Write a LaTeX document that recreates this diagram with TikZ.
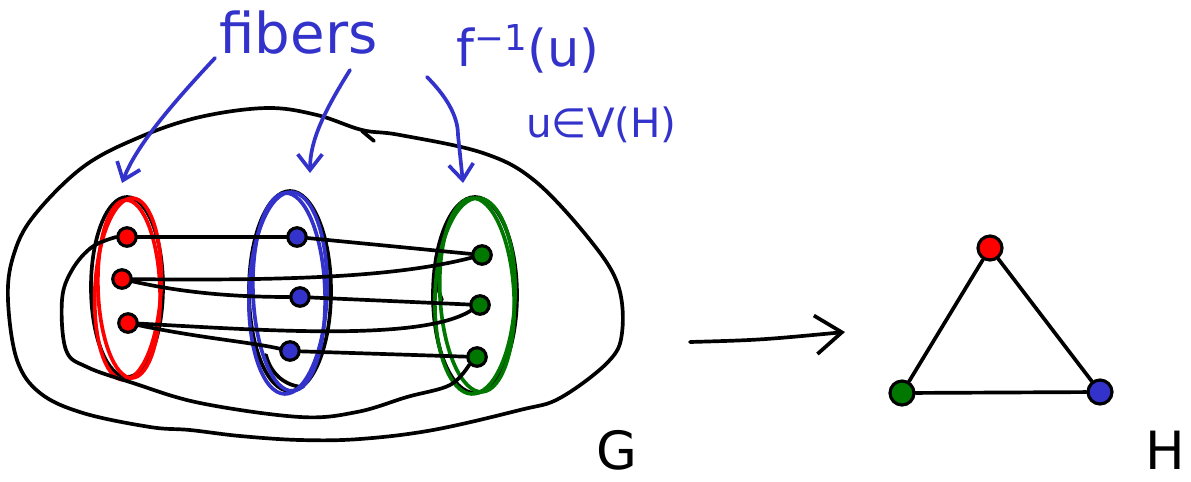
\documentclass[tikz,border=0pt]{standalone}
\usepackage{fontspec}
\setmainfont{DejaVu Sans}
\usetikzlibrary{arrows.meta}
\definecolor{penblue}{RGB}{51,51,204}
\definecolor{penred}{RGB}{255,0,0}
\definecolor{pengreen}{RGB}{0,120,0}

\begin{document}
\begin{tikzpicture}[x=0.02cm, y=-0.02cm, line cap=round, line join=round,
  >={Straight Barb[length=9pt,width=14pt]},
  pen/.style={line width=2.1pt},
  vtx/.style={circle, draw, line width=1.8pt, inner sep=0pt, minimum size=0.37cm},
  hvtx/.style={vtx, minimum size=0.48cm},
  penlabel/.style={font=\fontsize{32}{40}\selectfont, text=penblue, inner sep=0pt}]

\useasboundingbox (0,0) rectangle (1191,481);

% Outline of G
\draw[pen] plot[smooth cycle, tension=0.6] coordinates {
  (200,117) (267,108) (317,115) (362,130) (400,135) (483,153) (535,181)
  (590,240) (618,285) (622,333) (608,362) (560,398) (520,410) (433,430)
  (360,439) (300,440) (240,436) (190,430) (150,427) (83,413) (40,393)
  (17,360) (8,300) (13,257) (33,217) (83,167) (140,137)};
\draw[pen] (362,131) -- (374,141);

% Fibers (pencil first, colour on top)
\draw[pen] (127,287) ellipse [x radius=36, y radius=90];
\draw[pen] (290,291) ellipse [x radius=41, y radius=100];
\draw[pen] (475,295) ellipse [x radius=42, y radius=98];
\draw[pen] (266,355) .. controls (271,375) and (286,386) .. (303,387);
\draw[pen] (442,300) .. controls (436,285) and (434,270) .. (437,255);

\draw[pen, penred, rotate around={-3:(128,289)}] (128,289) ellipse [x radius=33, y radius=91];
\draw[pen, penred, rotate around={2:(129,289)}] (129,289) ellipse [x radius=31, y radius=89];
\draw[pen, penblue, rotate around={-2:(288,293)}] (288,293) ellipse [x radius=39, y radius=101];
\draw[pen, penblue, rotate around={2:(289,292)}] (289,292) ellipse [x radius=36, y radius=99];
\draw[pen, pengreen, rotate around={-2:(475,296)}] (475,296) ellipse [x radius=40, y radius=98];
\draw[pen, pengreen, rotate around={3:(477,295)}] (477,295) ellipse [x radius=37, y radius=97];

% Vertices of G
\node[vtx, fill=penred] (r1) at (127,237) {};
\node[vtx, fill=penred] (r2) at (122,279) {};
\node[vtx, fill=penred] (r3) at (128,323) {};
\node[vtx, fill=penblue] (b1) at (297,237) {};
\node[vtx, fill=penblue] (b2) at (300,297) {};
\node[vtx, fill=penblue] (b3) at (290,351) {};
\node[vtx, fill=pengreen] (g1) at (482,255) {};
\node[vtx, fill=pengreen] (g2) at (480,305) {};
\node[vtx, fill=pengreen] (g3) at (477,357) {};

% Edges of G
\draw[pen] (r1) -- (b1);
\draw[pen] (b1) -- (g1);
\draw[pen] (r2) .. controls (300,281) and (400,276) .. (g1);
\draw[pen] (r2) .. controls (180,292) and (230,297) .. (b2);
\draw[pen] (b2) -- (g2);
\draw[pen] (r3) .. controls (260,330) and (420,342) .. (g2);
\draw[pen] (r3) .. controls (200,338) and (250,342) .. (b3);
\draw[pen] (b3) -- (g3);
\draw[pen] plot[smooth, tension=0.6] coordinates {(r1.west) (92,247) (72,270)
  (62,300) (66,350) (87,367) (133,383) (200,403) (300,417) (357,412)
  (407,397) (450,385) (g3.south west)};

% Labels
\node[penlabel, anchor=base west] (fibers) at (219,53) {fibers};
\node[penlabel, font=\fontsize{29}{36}\selectfont, anchor=base west] (preimage) at (456,66) {f\textsuperscript{−1}(u)};
\node[penlabel, font=\fontsize{23}{28}\selectfont, anchor=base west] (vset) at (526,137) {u∈V(H)};

% Arrows from the labels to the fibers
\coordinate (s1) at (215,58);
\coordinate (t1) at (122,183);
\coordinate (s2) at (350,70);
\coordinate (t2) at (310,173);
\coordinate (s3) at (427,77);
\coordinate (t3) at (463,183);
\draw[pen, penblue, ->] (s1) .. controls (172,104) and (136,146) .. (t1);
\draw[pen, penblue, ->] (s2) .. controls (325,110) and (310,140) .. (t2);
\draw[pen, penblue, ->] (s3) .. controls (445,95) and (458,115) .. (458,135) -- (t3);

% Map G -> H
\coordinate (ma) at (690,342);
\coordinate (mb) at (845,332);
\draw[pen, -{Straight Barb[length=15pt,width=22pt]}] (ma) .. controls (760,340) .. (mb);

% Graph H
\node[hvtx, fill=penred] (hr) at (990,248) {};
\node[hvtx, fill=pengreen] (hg) at (902,393) {};
\node[hvtx, fill=penblue] (hb) at (1100,392) {};
\draw[pen] (hr) -- (hg);
\draw[pen] (hr) -- (hb);
\draw[pen] (hg) -- (hb);

% Names
\node[font=\fontsize{30}{36}\selectfont, inner sep=0pt] (gname) at (617,450) {G};
\node[font=\fontsize{30}{36}\selectfont, inner sep=0pt] (hname) at (1165,450) {H};

\end{tikzpicture}
\end{document}
